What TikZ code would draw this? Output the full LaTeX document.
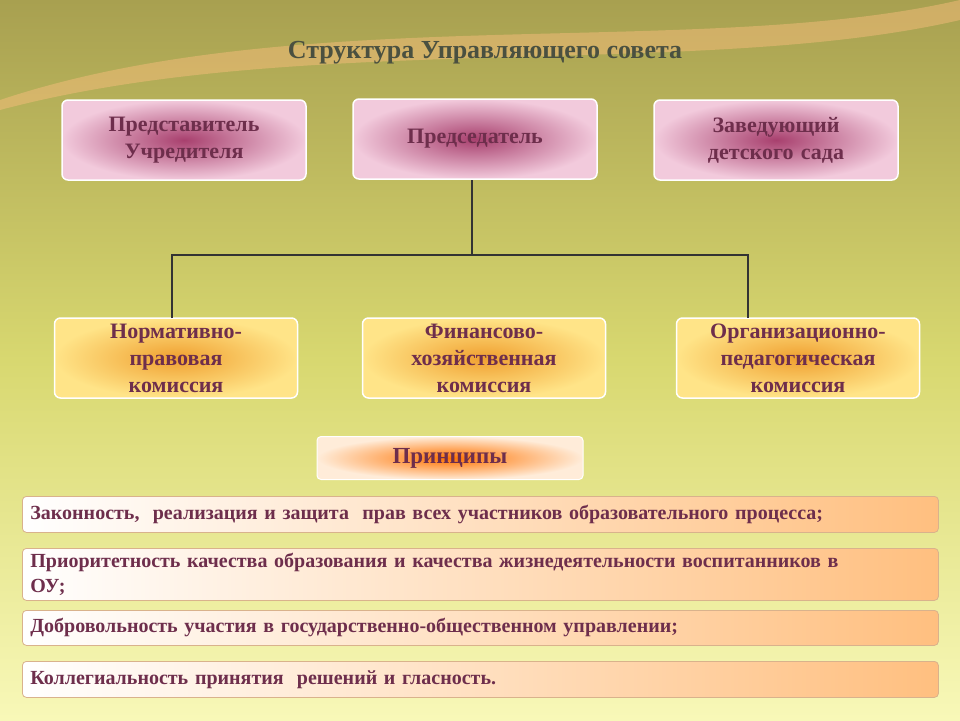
\documentclass[tikz,border=0pt]{standalone}
\usepackage{fontspec}
\setmainfont{Liberation Serif}
\usetikzlibrary{positioning}
\definecolor{boxtext}{HTML}{6E2E4C}
\definecolor{titletext}{HTML}{4A5040}
\definecolor{bgtop}{HTML}{A8A050}
\definecolor{bgmid}{HTML}{D8D870}
\definecolor{bgbot}{HTML}{F8F8B8}
\definecolor{pinkin}{HTML}{A8406E}
\definecolor{pinkout}{HTML}{F2CADC}
\definecolor{yelin}{HTML}{F0A030}
\definecolor{yelout}{HTML}{FFE488}
\tikzset{
  pinkbox/.style={rounded corners=6pt, draw=white, line width=1.5pt, inner color=pinkin, outer color=pinkout,
    minimum width=244pt, minimum height=80pt, text width=230pt, align=center, font=\fontsize{22}{27}\selectfont\bfseries, text=boxtext},
  yellowbox/.style={rounded corners=6pt, draw=white, line width=1.5pt, inner color=yelin, outer color=yelout,
    minimum width=243pt, minimum height=80pt, text width=236pt, align=center, font=\fontsize{22}{27}\selectfont\bfseries, text=boxtext},
  listbar/.style={rounded corners=4pt, draw=brown!60, line width=0.8pt, left color=white, right color=orange!50,
    minimum width=916pt, text width=900pt, align=left, anchor=north west, font=\fontsize{20}{25}\selectfont\bfseries, text=boxtext},
  link/.style={line width=1.2pt, draw=black!80}
}
\begin{document}
\begin{tikzpicture}[x=1pt,y=-1pt]
\shade[top color=bgtop, bottom color=bgbot, middle color=bgmid] (0,0) rectangle (960,720);
\fill[orange!50, opacity=0.45] (0,100) .. controls (300,0) and (700,60) .. (960,0) -- (960,20) .. controls (700,80) and (300,30) .. (0,110) -- cycle;
\useasboundingbox (0,0) rectangle (960,720);

\node[font=\fontsize{26}{28}\selectfont\bfseries, text=titletext] (title) at (485,53) {Структура Управляющего совета};

% top row
\node[pinkbox] (rep) at (184,140) {Представитель\\Учредителя};
\node[pinkbox] (chair) at (475,139) {Председатель};
\node[pinkbox] (head) at (776,140) {Заведующий\\детского сада};

% commissions
\node[yellowbox] (norm) at (176,358) {Нормативно-\\правовая\\комиссия};
\node[yellowbox] (fin) at (484,358) {Финансово-\\хозяйственная\\комиссия};
\node[yellowbox] (org) at (798,358) {Организационно-\\педагогическая\\комиссия};

\coordinate (hub) at (472,255);
\draw[link] (472,180) -- (hub);
\draw[link] (172,318) |- (hub) -| (748,318);

% principles
\node[rounded corners=4pt, draw=white, line width=1pt, inner color=orange!90!red, outer color=orange!15,
  minimum width=266pt, minimum height=43pt, font=\fontsize{23}{25}\selectfont\bfseries, text=boxtext] (princ) at (450,458) {Принципы};

\node[listbar, minimum height=36pt] (p1) at (22,496) {\makebox[830pt][s]{Законность,\ \ реализация\ и защита\ \ прав всех участников\ образовательного\ процесса;}};
\node[listbar, minimum height=52pt, inner ysep=2pt] (p2) at (22,548) {\makebox[900pt][s]{Приоритетность качества образования и качества жизнедеятельности воспитанников в}\\ОУ;};
\node[listbar, minimum height=35pt] (p3) at (22,610) {Добровольность участия в государственно-общественном управлении;};
\node[listbar, minimum height=36pt] (p4) at (22,661) {Коллегиальность принятия\ \ решений и гласность.};
\end{tikzpicture}
\end{document}
